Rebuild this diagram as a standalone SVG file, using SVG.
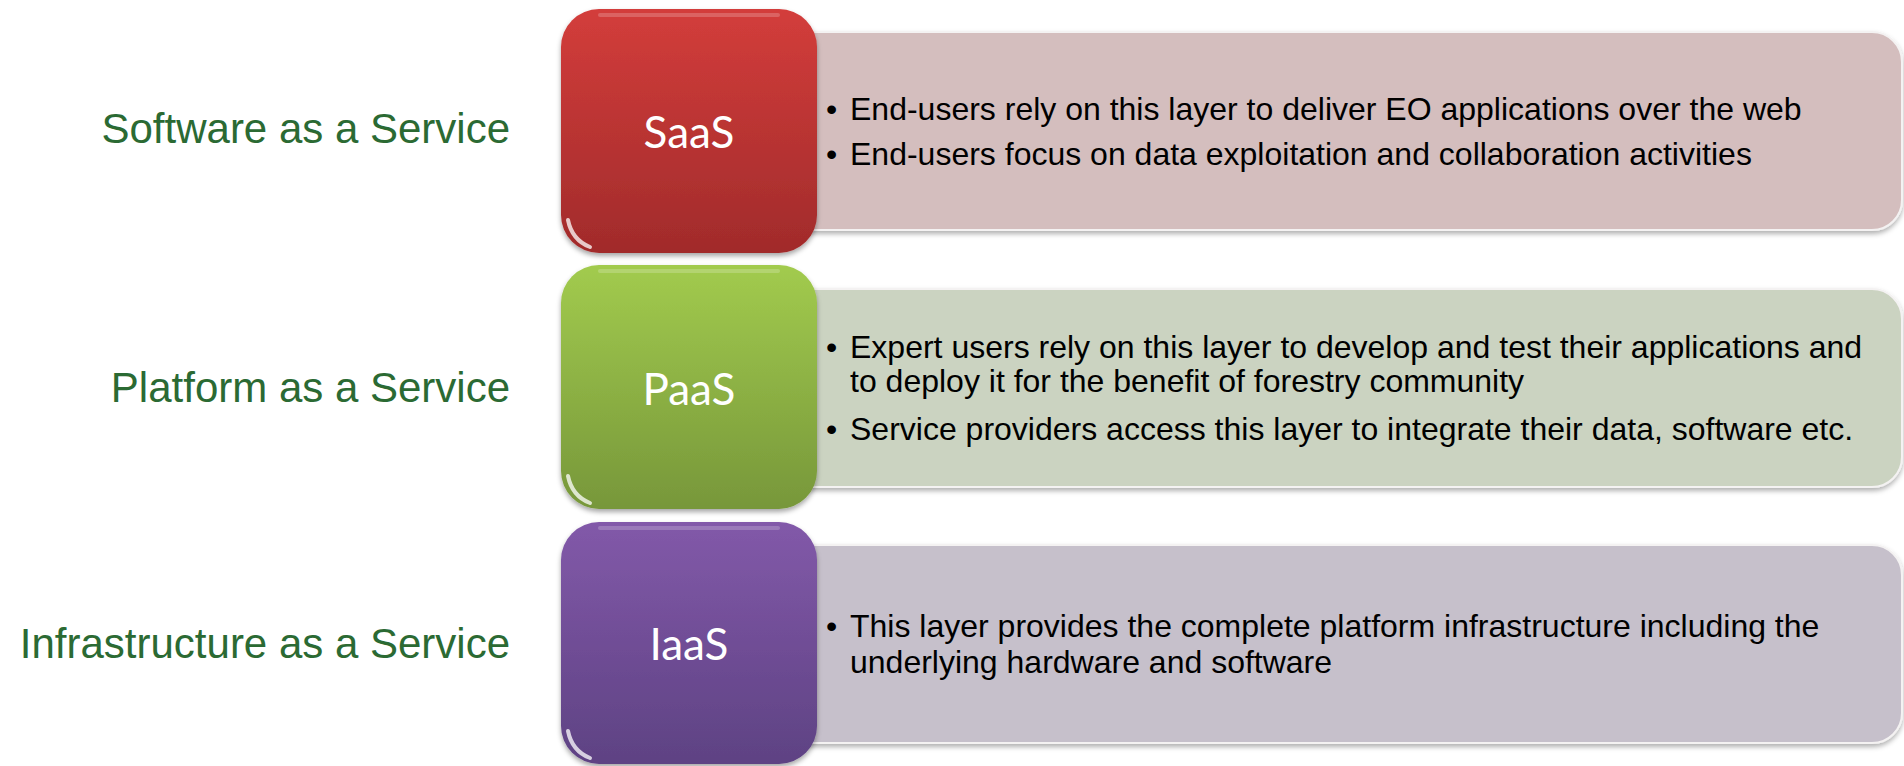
<svg xmlns="http://www.w3.org/2000/svg" width="1904" height="766" viewBox="0 0 1904 766">
<style>
.lbl{font-family:"Liberation Sans",Arial,sans-serif;font-size:42px;fill:#2B6A33;text-anchor:end}
.tag{font-family:Lato,"Open Sans",sans-serif;font-size:44px;fill:#FFFFFF;text-anchor:middle}
.txt{font-family:"Liberation Sans",Arial,sans-serif;font-size:32px;fill:#000000}
.card{stroke:#F4F2F2;stroke-width:2;filter:url(#sh)}
.sq{filter:url(#sh2)}
.gloss{fill:none;stroke:#FFFFFF;stroke-opacity:0.2;stroke-width:4;stroke-linecap:round}
.corner{fill:none;stroke:#FFFFFF;stroke-opacity:0.75;stroke-width:4;stroke-linecap:round}
</style>
<defs>
<filter id="sh" x="-5%" y="-10%" width="110%" height="125%">
<feDropShadow dx="0" dy="3" stdDeviation="2.5" flood-color="#000" flood-opacity="0.3"/>
</filter>
<filter id="sh2" x="-10%" y="-10%" width="120%" height="125%">
<feDropShadow dx="0" dy="3" stdDeviation="2.5" flood-color="#000" flood-opacity="0.35"/>
</filter>
<linearGradient id="gRed" x1="0" y1="0" x2="0" y2="1">
<stop offset="0" stop-color="#D33D3B"/>
<stop offset="1" stop-color="#A12B2B"/>
</linearGradient>
<linearGradient id="gGreen" x1="0" y1="0" x2="0" y2="1">
<stop offset="0" stop-color="#A2CB4E"/>
<stop offset="1" stop-color="#77973A"/>
</linearGradient>
<linearGradient id="gPurple" x1="0" y1="0" x2="0" y2="1">
<stop offset="0" stop-color="#8259A9"/>
<stop offset="1" stop-color="#5E4283"/>
</linearGradient>
</defs>

<g id="row-saas">
<text class="lbl" x="510" y="143">Software as a Service</text>
<rect class="card" x="760" y="32" width="1142" height="198" rx="30" fill="#D4BEBE"/>
<text class="txt" x="826" y="120">•</text>
<text class="txt" x="850" y="120">End-users rely on this layer to deliver EO applications over the web</text>
<text class="txt" x="826" y="165">•</text>
<text class="txt" x="850" y="165">End-users focus on data exploitation and collaboration activities</text>
<rect class="sq" x="561" y="9" width="256" height="244" rx="38" fill="url(#gRed)"/>
<path class="gloss" d="M600 15 H778"/>
<path class="corner" d="M568 220 Q572 240 590 247"/>
<text class="tag" x="689" y="148">SaaS</text>
</g>

<g id="row-paas">
<text class="lbl" x="510" y="402">Platform as a Service</text>
<rect class="card" x="760" y="289" width="1142" height="198" rx="30" fill="#CBD3C1"/>
<text class="txt" x="826" y="358">•</text>
<text class="txt" x="850" y="358">Expert users rely on this layer to develop and test their applications and</text>
<text class="txt" x="850" y="392">to deploy it for the benefit of forestry community</text>
<text class="txt" x="826" y="440">•</text>
<text class="txt" x="850" y="440">Service providers access this layer to integrate their data, software etc.</text>
<rect class="sq" x="561" y="265" width="256" height="244" rx="38" fill="url(#gGreen)"/>
<path class="gloss" d="M600 271 H778"/>
<path class="corner" d="M568 476 Q572 496 590 503"/>
<text class="tag" x="689" y="405">PaaS</text>
</g>

<g id="row-iaas">
<text class="lbl" x="510" y="658">Infrastructure as a Service</text>
<rect class="card" x="760" y="545" width="1142" height="198" rx="30" fill="#C6C0CB"/>
<text class="txt" x="826" y="637">•</text>
<text class="txt" x="850" y="637">This layer provides the complete platform infrastructure including the</text>
<text class="txt" x="850" y="673">underlying hardware and software</text>
<rect class="sq" x="561" y="522" width="256" height="242" rx="38" fill="url(#gPurple)"/>
<path class="gloss" d="M600 528 H778"/>
<path class="corner" d="M568 731 Q572 751 590 758"/>
<text class="tag" x="689" y="660">IaaS</text>
</g>
</svg>
